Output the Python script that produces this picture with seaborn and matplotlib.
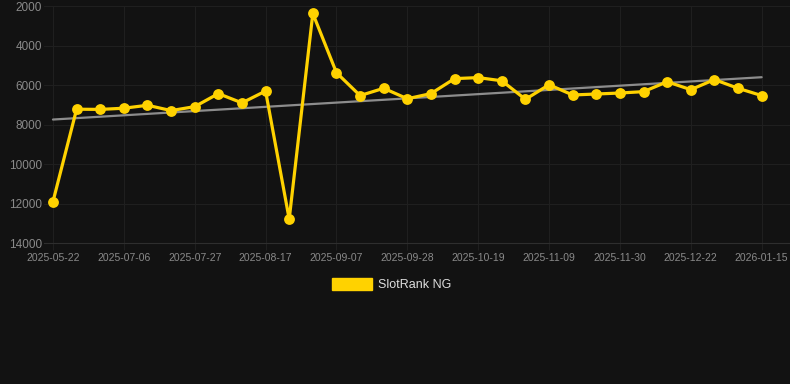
import matplotlib
matplotlib.use("Agg")
import matplotlib.pyplot as plt
import matplotlib.patches as mpatches
import numpy as np
import pandas as pd
import seaborn as sns

# weekly snapshots (only every third label is shown on the axis)
dates = [
    "2025-05-22", "2025-06-22", "2025-06-29", "2025-07-06", "2025-07-13",
    "2025-07-20", "2025-07-27", "2025-08-03", "2025-08-10", "2025-08-17",
    "2025-08-24", "2025-08-31", "2025-09-07", "2025-09-14", "2025-09-21",
    "2025-09-28", "2025-10-05", "2025-10-12", "2025-10-19", "2025-10-26",
    "2025-11-02", "2025-11-09", "2025-11-16", "2025-11-23", "2025-11-30",
    "2025-12-07", "2025-12-14", "2025-12-22", "2025-12-29", "2026-01-05",
    "2026-01-15",
]
rank = [
    11900, 7220, 7230, 7170, 7020, 7290, 7090, 6430, 6900, 6300,
    12790, 2370, 5370, 6530, 6160, 6690, 6430, 5670, 5620, 5780,
    6720, 5980, 6500, 6450, 6400, 6330, 5830, 6230, 5720, 6160,
    6530,
]
series_name = "SlotRank NG"

df = pd.DataFrame({"date": dates, "rank": rank})
df["pos"] = np.arange(len(df))

bg = "#121212"
gold = "#FFD200"
grid = "#1f1f1f"
tick_col = "#8a8a8a"

sns.set_theme(style="dark")
plt.rcParams["font.family"] = ["Liberation Sans", "DejaVu Sans"]

fig = plt.figure(figsize=(7.9, 3.84), dpi=100, facecolor=bg)
ax = fig.add_axes([0.0557, 0.367, 0.9443, 0.617], facecolor=bg)

# linear trend over the whole period
sns.regplot(data=df, x="pos", y="rank", scatter=False, ci=None, ax=ax,
            truncate=True,
            line_kws=dict(color="#8c8c8c", linewidth=1.6, zorder=2))

sns.lineplot(data=df, x="pos", y="rank", ax=ax, color=gold, linewidth=2.3,
             marker="o", markersize=7.8, markeredgewidth=0,
             solid_joinstyle="miter", zorder=3)

ax.set_ylim(14000, 2000)
ax.set_xlim(-0.38, 31.2)
ax.set_yticks(np.arange(2000, 14001, 2000))
ax.set_xticks(df["pos"][::3])
ax.set_xticklabels(df["date"][::3])

ax.grid(True, color=grid, linewidth=0.8)
ax.tick_params(axis="x", colors=grid, length=5, width=0.8, pad=2,
               labelcolor=tick_col, labelsize=7.5, bottom=True)
ax.tick_params(axis="y", length=0, pad=1.5, labelcolor=tick_col, labelsize=8.5)
for s in ["top", "right", "left"]:
    ax.spines[s].set_visible(False)
ax.spines["bottom"].set_color("#2e2e2e")
ax.spines["bottom"].set_linewidth(0.8)
ax.set_xlabel("")
ax.set_ylabel("")

handle = mpatches.Patch(color=gold, label=series_name)
fig.legend(handles=[handle], loc="center", bbox_to_anchor=(0.496, 0.258),
           frameon=False, fontsize=9, labelcolor="#dddddd",
           handlelength=3.2, handleheight=1.0, handletextpad=0.5)

fig.savefig("out.png", dpi=100, facecolor=bg)
